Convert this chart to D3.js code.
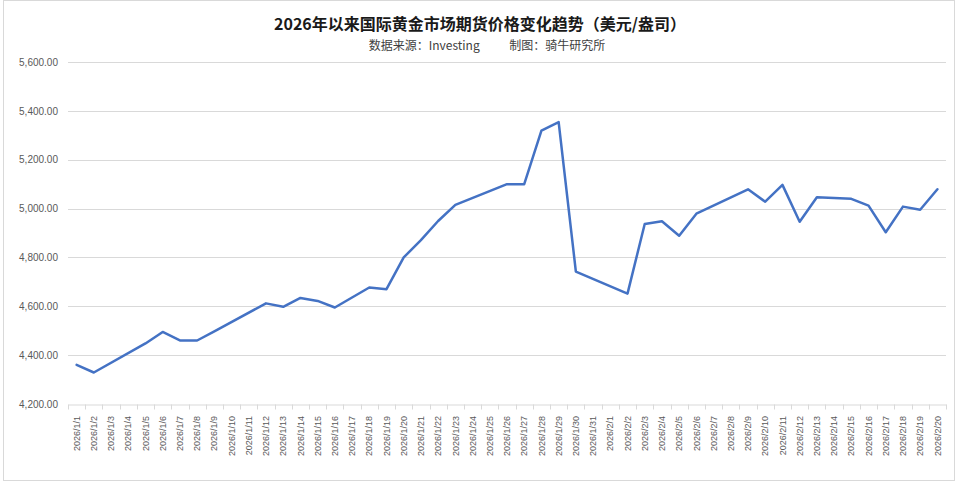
<!DOCTYPE html>
<html>
<head>
<meta charset="utf-8">
<script src="https://cdn.jsdelivr.net/npm/d3@7/dist/d3.min.js"></script>
<style>
  html, body { margin: 0; padding: 0; background: #fff; }
  svg { display: block; }
</style>
</head>
<body>
<svg id="chart" width="960" height="482"></svg>
<script>
const titleText = "2026年以来国际黄金市场期货价格变化趋势（美元/盎司）";
const subtitleText = "数据来源：Investing\u00a0\u00a0\u00a0\u00a0\u00a0\u00a0\u00a0\u00a0\u00a0\u00a0\u00a0制图：骑牛研究所";

const dates = [
  "2026/1/1","2026/1/2","2026/1/3","2026/1/4","2026/1/5","2026/1/6","2026/1/7","2026/1/8","2026/1/9","2026/1/10",
  "2026/1/11","2026/1/12","2026/1/13","2026/1/14","2026/1/15","2026/1/16","2026/1/17","2026/1/18","2026/1/19","2026/1/20",
  "2026/1/21","2026/1/22","2026/1/23","2026/1/24","2026/1/25","2026/1/26","2026/1/27","2026/1/28","2026/1/29","2026/1/30",
  "2026/1/31","2026/2/1","2026/2/2","2026/2/3","2026/2/4","2026/2/5","2026/2/6","2026/2/7","2026/2/8","2026/2/9",
  "2026/2/10","2026/2/11","2026/2/12","2026/2/13","2026/2/14","2026/2/15","2026/2/16","2026/2/17","2026/2/18","2026/2/19",
  "2026/2/20"
];

const prices = [
  4360, 4329, null, null, 4448, 4495, 4460, 4460, 4497, null,
  null, 4612, 4598, 4634, 4622, 4595, null, 4677, 4670, 4800,
  4871, 4949, 5015, null, null, 5100, 5100, 5319, 5354, 4742,
  null, null, 4652, 4937, 4948, 4889, 4979, null, null, 5079,
  5028, 5097, 4946, 5046, null, 5040, 5012, 4903, 5008, 4995,
  5079
];

const yTicks = [4200, 4400, 4600, 4800, 5000, 5200, 5400, 5600];

const svg = d3.select("#chart");
const plot = { left: 68, right: 946, top: 62, bottom: 404 };

// outer border
svg.append("rect")
  .attr("x", 3.5).attr("y", 0.5).attr("width", 951).attr("height", 480)
  .attr("fill", "#fff").attr("stroke", "#d9d9d9").attr("stroke-width", 1);

// title
svg.append("text")
  .attr("x", 480).attr("y", 30)
  .attr("text-anchor", "middle")
  .attr("font-family", "'Noto Sans CJK SC', 'Noto Sans', sans-serif")
  .attr("font-weight", "bold")
  .attr("font-size", 16)
  .attr("fill", "#1a1a1a")
  .text(titleText);

svg.append("text")
  .attr("x", 487).attr("y", 50)
  .attr("text-anchor", "middle")
  .attr("font-family", "'Noto Sans CJK SC', 'Noto Sans', sans-serif")
  .attr("font-size", 12)
  .attr("fill", "#404040")
  .text(subtitleText);

const x = d3.scaleBand().domain(dates).range([plot.left, plot.right]).padding(0);
const y = d3.scaleLinear().domain([4200, 5600]).range([plot.bottom, plot.top]);

// gridlines
svg.append("g")
  .selectAll("line")
  .data(yTicks.filter(d => d !== 4200))
  .join("line")
  .attr("x1", plot.left).attr("x2", plot.right)
  .attr("y1", d => Math.round(y(d)) + 0.5).attr("y2", d => Math.round(y(d)) + 0.5)
  .attr("stroke", "#d9d9d9").attr("stroke-width", 1);

// y axis labels
const yAxis = d3.axisLeft(y).tickValues(yTicks).tickSize(0).tickPadding(10)
  .tickFormat(d3.format(",.2f"));
const yg = svg.append("g").attr("transform", `translate(${plot.left},0)`).call(yAxis);
yg.select(".domain").remove();
yg.selectAll("text")
  .attr("font-family", "'Liberation Sans', Arial, sans-serif")
  .attr("font-size", 10)
  .attr("fill", "#595959");

// x axis
const xAxis = d3.axisBottom(x).tickSize(0).tickPadding(6);
const xg = svg.append("g").attr("transform", `translate(0,${Math.round(plot.bottom) + 0.5})`).call(xAxis);
xg.select(".domain").attr("stroke", "#d9d9d9");
xg.selectAll("text")
  .attr("font-family", "'Liberation Sans', Arial, sans-serif")
  .attr("font-size", 9)
  .attr("fill", "#595959")
  .attr("transform", "rotate(-90)")
  .attr("text-anchor", "end")
  .attr("y", 0)
  .attr("x", -6)
  .attr("dx", "-0.6em")
  .attr("dy", "0.35em");
// tick marks between categories
const boundaries = dates.map(d => x(d)).concat([x(dates[dates.length - 1]) + x.bandwidth()]);
xg.append("g").selectAll("line")
  .data(boundaries)
  .join("line")
  .attr("x1", d => Math.round(d) + 0.5).attr("x2", d => Math.round(d) + 0.5)
  .attr("y1", 0).attr("y2", 5)
  .attr("stroke", "#d9d9d9");

// line
const pts = dates.map((d, i) => ({ d, v: prices[i] })).filter(p => p.v !== null);
const line = d3.line()
  .x(p => x(p.d) + x.bandwidth() / 2)
  .y(p => y(p.v));
svg.append("path")
  .datum(pts)
  .attr("fill", "none")
  .attr("stroke", "#4472C4")
  .attr("stroke-width", 2.5)
  .attr("stroke-linejoin", "round")
  .attr("stroke-linecap", "round")
  .attr("d", line);
</script>
</body>
</html>
